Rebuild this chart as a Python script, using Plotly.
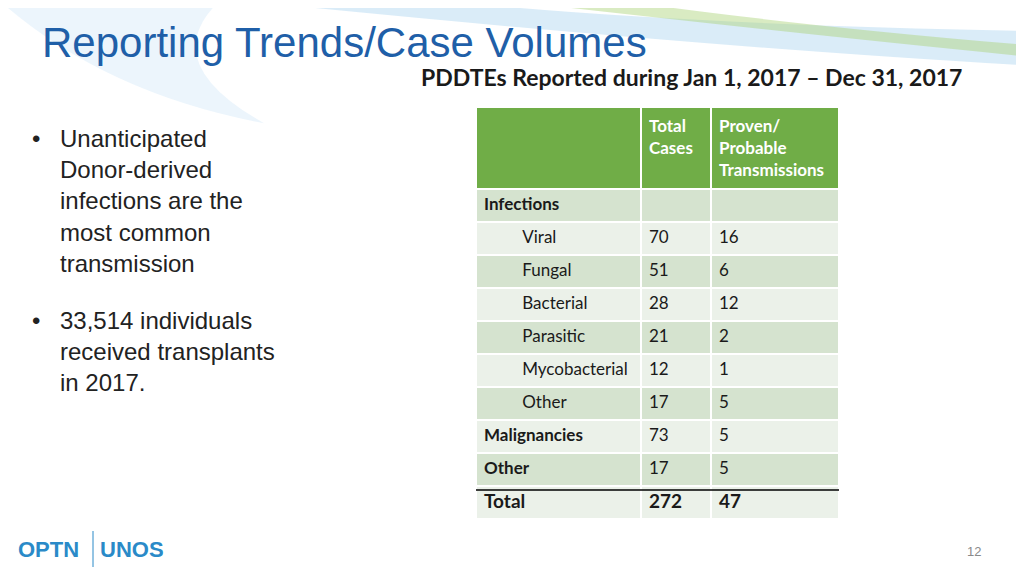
import plotly.graph_objects as go

# table data
categories = ["Infections", "Viral", "Fungal", "Bacterial", "Parasitic", "Mycobacterial", "Other",
              "Malignancies", "Other", "Total"]
indented = [False, True, True, True, True, True, True, False, False, False]
total_cases = ["", "70", "51", "28", "21", "12", "17", "73", "17", "272"]
transmissions = ["", "16", "6", "12", "2", "1", "5", "5", "5", "47"]
headers = ["", "Total<br>Cases", "Proven/<br>Probable<br>Transmissions"]

bullets = ["Unanticipated<br>Donor-derived<br>infections are the<br>most common<br>transmission",
           "33,514 individuals<br>received transplants<br>in 2017."]

last = len(categories) - 1
OFF = 8  # page margin offset


def px(x):
    return (x - OFF) / 1024


def py(y):
    return 1 - (y - OFF) / 576


n = len(categories)
# regular text layer
reg = [["\u2003\u2003\u2003" + c if indented[i] else "" for i, c in enumerate(categories)],
       [v if i != last else "" for i, v in enumerate(total_cases)],
       [v if i != last else "" for i, v in enumerate(transmissions)]]
# bold row labels layer
bold = [[c if (not indented[i] and i != last) else "" for i, c in enumerate(categories)], [""] * n, [""] * n]
# total row layer
tot = [[categories[last] if i == last else "" for i in range(n)],
       [total_cases[last] if i == last else "" for i in range(n)],
       [transmissions[last] if i == last else "" for i in range(n)]]

dark, light = "#d5e3cf", "#ebf1e9"
row_colors = [dark if i % 2 == 0 else light for i in range(n)]
row_colors[-1] = light

dom = dict(x=[px(476), px(839)], y=[py(524), py(107)])
widths = [165, 70, 128]

fig = go.Figure()
fig.add_trace(go.Table(
    domain=dom, columnwidth=widths,
    header=dict(values=[f"<b>{h}</b>" if h else "" for h in headers], height=82,
                fill_color="#70ad47", line=dict(color="white", width=2),
                font=dict(family="Lato", size=17, color="white"), align="left"),
    cells=dict(values=reg, height=33,
               fill_color=[row_colors] * 3, line=dict(color="white", width=2),
               font=dict(family="Lato", size=17, color="#1a1a1a"), align="left"),
))
for vals, size in [(bold, 17), (tot, 19)]:
    fig.add_trace(go.Table(
        domain=dom, columnwidth=widths,
        header=dict(values=["", "", ""], height=82, fill_color="rgba(0,0,0,0)",
                    line=dict(width=0), font=dict(size=17)),
        cells=dict(values=vals, height=33, fill_color="rgba(0,0,0,0)", line=dict(width=0),
                   font=dict(family="Lato", size=size, color="#1a1a1a", weight="bold"), align="left"),
    ))

shapes = [
    # top swooshes
    dict(type="path", xref="paper", yref="paper", layer="below",
         path="M 0.3 1 Q 0.7 0.93 1 0.9 L 1 0.96 Q 0.7 0.97 0.5 1 Z",
         fillcolor="rgba(150,200,235,0.35)", line_width=0),
    dict(type="path", xref="paper", yref="paper", layer="below",
         path="M 0.55 1 Q 0.8 0.95 1 0.915 L 1 0.935 Q 0.8 0.965 0.65 1 Z",
         fillcolor="rgba(170,210,120,0.45)", line_width=0),
    dict(type="path", xref="paper", yref="paper", layer="below",
         path="M 0 1 Q 0.1 0.85 0.25 0.8 Q 0.15 0.9 0.2 1 Z",
         fillcolor="rgba(200,225,245,0.35)", line_width=0),
    # total row rule
    dict(type="line", xref="paper", yref="paper", x0=px(476), x1=px(839),
         y0=py(490), y1=py(490), line=dict(color="black", width=1.5)),
    # logo divider
    dict(type="line", xref="paper", yref="paper", x0=px(93), x1=px(93),
         y0=py(531), y1=py(567), line=dict(color="#2a8ac8", width=1)),
]

annotations = [
    dict(text="Reporting Trends/Case Volumes", x=px(40), y=py(43), xanchor="left", yanchor="middle",
         showarrow=False, font=dict(family="Liberation Sans", size=42, color="#1f5fa8")),
    dict(text="<b>PDDTEs Reported during Jan 1, 2017 – Dec 31, 2017</b>", x=px(964), y=py(77),
         xanchor="right", yanchor="middle", showarrow=False,
         font=dict(family="Lato", size=23, color="#1a1a1a")),
    dict(text="<b>OPTN</b>", x=px(16), y=py(549), xanchor="left", yanchor="middle", showarrow=False,
         font=dict(family="Liberation Sans", size=22, color="#2a8ac8")),
    dict(text="<b>UNOS</b>", x=px(98), y=py(549), xanchor="left", yanchor="middle", showarrow=False,
         font=dict(family="Liberation Sans", size=22, color="#2a8ac8")),
    dict(text="12", x=px(983), y=py(551), xanchor="right", yanchor="middle", showarrow=False,
         font=dict(family="Liberation Sans", size=13, color="#8a8a8a")),
]
for b, ytop in zip(bullets, [123, 305]):
    annotations.append(dict(text="•", x=px(30), y=py(ytop), xanchor="left", yanchor="top",
                            showarrow=False, font=dict(family="Liberation Sans", size=24, color="#222")))
    annotations.append(dict(text=b, x=px(58), y=py(ytop), xanchor="left", yanchor="top", align="left",
                            showarrow=False, font=dict(family="Liberation Sans", size=24, color="#222")))

fig.update_layout(width=1024, height=576, margin=dict(l=0, r=0, t=0, b=0),
                  paper_bgcolor="white", plot_bgcolor="white",
                  shapes=shapes, annotations=annotations)
fig.write_html("out.html")
